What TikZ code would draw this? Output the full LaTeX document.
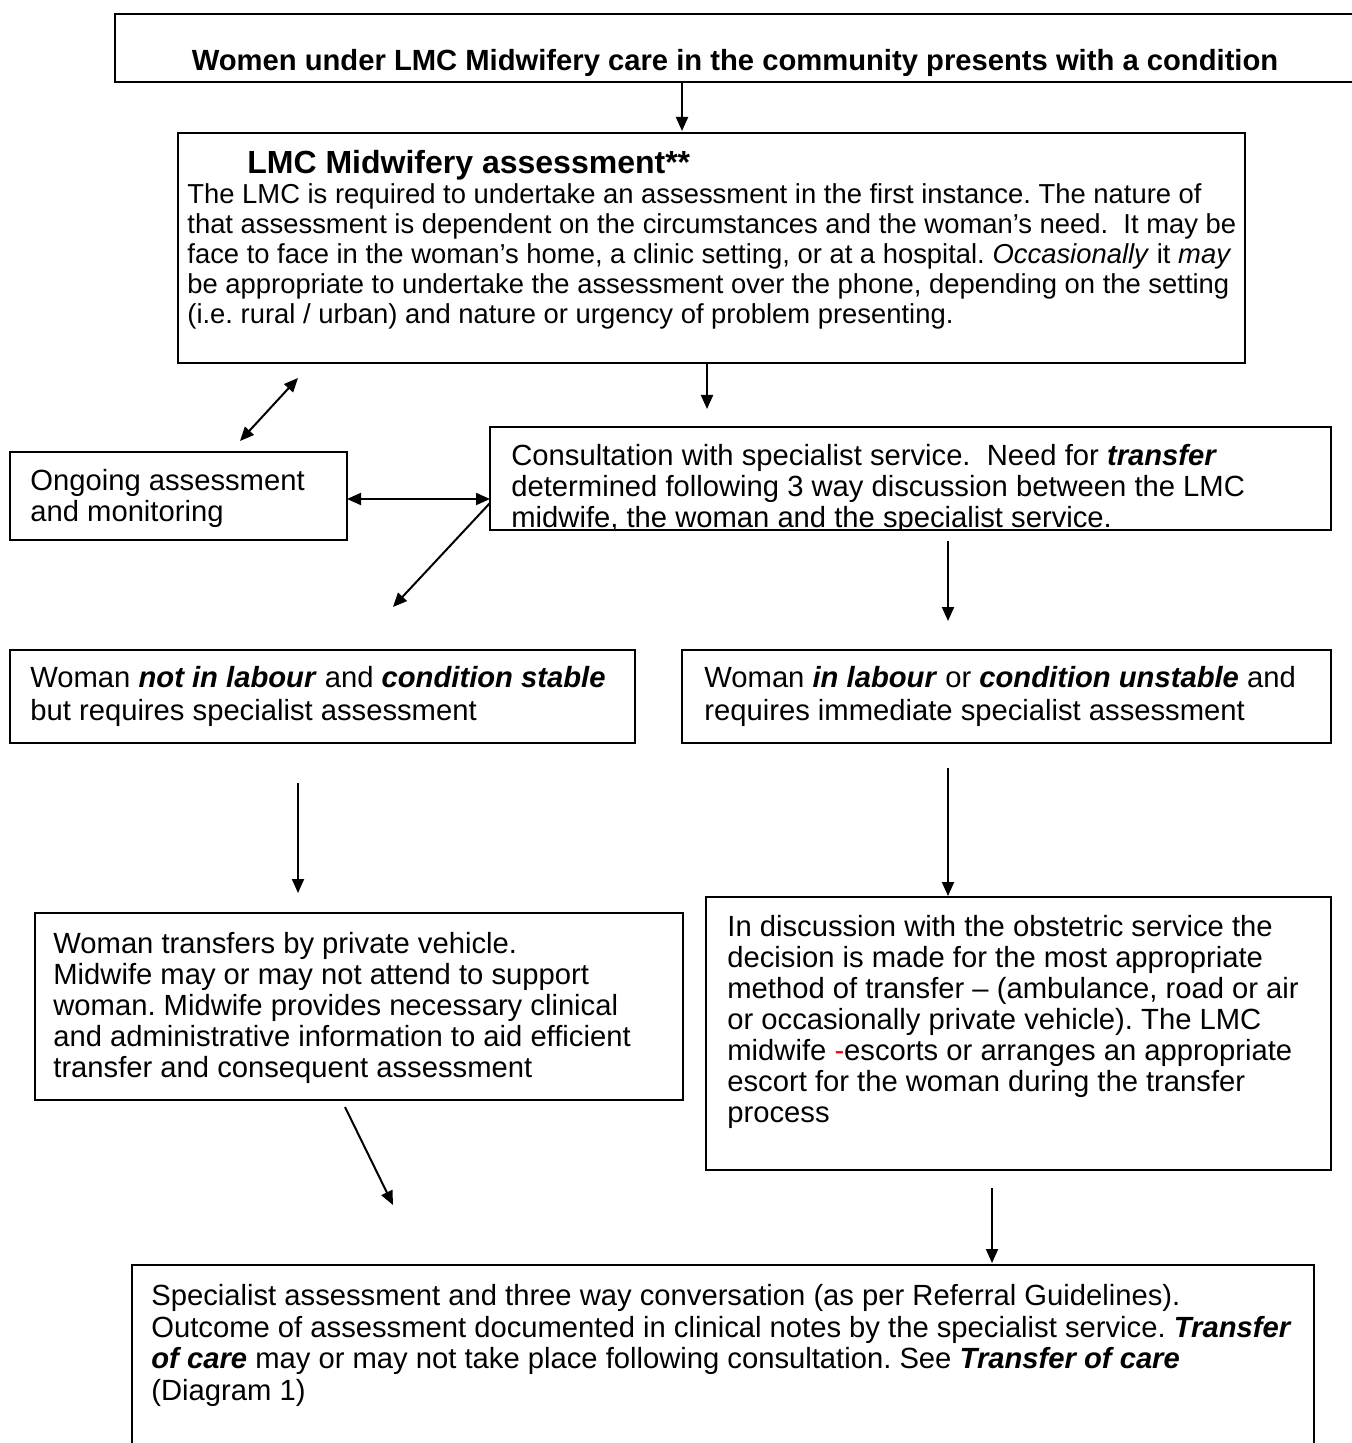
\documentclass[tikz,border=0pt]{standalone}
\usepackage{fontspec}
\setmainfont{Liberation Sans}
\usetikzlibrary{arrows.meta,fit}
\newcommand{\bi}[1]{\textbf{\textit{#1}}}
\frenchspacing
\begin{document}
\begin{tikzpicture}[x=0.5pt, y=-0.5pt,
    box/.style = {draw, line width=0.8pt, inner sep=0pt},
    txt/.style = {anchor=north west, inner sep=0pt, align=left, font=\fontsize{14.6}{15.5}\selectfont},
    arr/.style = {line width=1pt, -{Triangle[length=7pt, width=6pt]}},
    darr/.style = {line width=1pt, {Triangle[length=7pt, width=6pt]}-{Triangle[length=7pt, width=6pt]}}]
    \useasboundingbox (0,0) rectangle (1352,1443);
    \clip (0,0) rectangle (1352,1443);

    \node[box, fit={(115,14) (1400,82)}] (top) {};
    \node[anchor=base, inner sep=0pt, font=\fontsize{14.6}{15.5}\selectfont\bfseries] (toptext) at (735,71) {Women under LMC Midwifery care in the community presents with a condition};

    \node[box, fit={(178,133) (1245,363)}] (lmc) {};
    \node[txt, font=\fontsize{16}{18}\selectfont\bfseries] (lmctitle) at (247,150) {LMC Midwifery assessment**};
    \node[txt, font=\fontsize{13.7}{15}\selectfont] (lmctext) at (187,183) {The LMC is required to undertake an assessment in the first instance. The nature of\\
        that assessment is dependent on the circumstances and the woman’s need.\ \ It may be\\
        face to face in the woman’s home, a clinic setting, or at a hospital. \textit{Occasionally} it \textit{may}\\
        be appropriate to undertake the assessment over the phone, depending on the setting\\
        (i.e. rural / urban) and nature or urgency of problem presenting.};

    \node[box, fit={(10,452) (347,540)}] (ongoing) {};
    \node[txt] (ongoingtext) at (30,469) {Ongoing assessment\\and monitoring};

    \begin{scope}
        \clip (490,427) rectangle (1331,530);
        \node[txt] (consulttext) at (511,444) {Consultation with specialist service.\ \ Need for \bi{transfer}\\
            determined following 3 way discussion between the LMC\\
            midwife, the woman and the specialist service.};
    \end{scope}
    \node[box, fit={(490,427) (1331,530)}] (consult) {};

    \node[box, fit={(10,650) (635,743)}] (stable) {};
    \node[txt, font=\fontsize{14.6}{16.5}\selectfont] (stabletext) at (30,666) {Woman \bi{not in labour} and \bi{condition stable}\\but requires specialist assessment};

    \node[box, fit={(682,650) (1331,743)}] (unstable) {};
    \node[txt, font=\fontsize{14.6}{16.5}\selectfont] (unstabletext) at (704,666) {Woman \bi{in labour} or \bi{condition unstable} and\\requires immediate specialist assessment};

    \node[box, fit={(35,913) (683,1100)}] (private) {};
    \node[txt] (privatetext) at (53,932) {Woman transfers by private vehicle.\\
        Midwife may or may not attend to support\\
        woman. Midwife provides necessary clinical\\
        and administrative information to aid efficient\\
        transfer and consequent assessment};

    \node[box, fit={(706,897) (1331,1170)}] (obstetric) {};
    \node[txt] (obstetrictext) at (727,915) {In discussion with the obstetric service the\\
        decision is made for the most appropriate\\
        method of transfer – (ambulance, road or air\\
        or occasionally private vehicle). The LMC\\
        midwife {\color{red}-}escorts or arranges an appropriate\\
        escort for the woman during the transfer\\
        process};

    \node[box, fit={(132,1265) (1314,1500)}] (specialist) {};
    \node[txt, font=\fontsize{14.6}{15.75}\selectfont] (specialisttext) at (151,1284) {Specialist assessment and three way conversation (as per Referral Guidelines).\\
        Outcome of assessment documented in clinical notes by the specialist service. \bi{Transfer}\\
        \bi{of care} may or may not take place following consultation. See \bi{Transfer of care}\\
        (Diagram 1)};

    \coordinate (t1) at (682,82);   \coordinate (t2) at (682,131);
    \coordinate (l1) at (707,363);  \coordinate (l2) at (707,409);
    \coordinate (d1) at (298,378);  \coordinate (d2) at (240,441);
    \coordinate (h1) at (347,499);  \coordinate (h2) at (490,499);
    \coordinate (s1) at (490,503);  \coordinate (s2) at (393,607);
    \coordinate (c1) at (948,541);  \coordinate (c2) at (948,621);
    \coordinate (p1) at (298,783);  \coordinate (p2) at (298,893);
    \coordinate (o1) at (948,768);  \coordinate (o2) at (948,896);
    \coordinate (v1) at (345,1107); \coordinate (v2) at (393,1205);
    \coordinate (e1) at (992,1188); \coordinate (e2) at (992,1263);

    \draw[arr] (t1) -- (t2);
    \draw[arr] (l1) -- (l2);
    \draw[darr] (d1) -- (d2);
    \draw[darr] (h1) -- (h2);
    \draw[arr] (s1) -- (s2);
    \draw[arr] (c1) -- (c2);
    \draw[arr] (p1) -- (p2);
    \draw[arr] (o1) -- (o2);
    \draw[arr] (v1) -- (v2);
    \draw[arr] (e1) -- (e2);
\end{tikzpicture}
\end{document}
